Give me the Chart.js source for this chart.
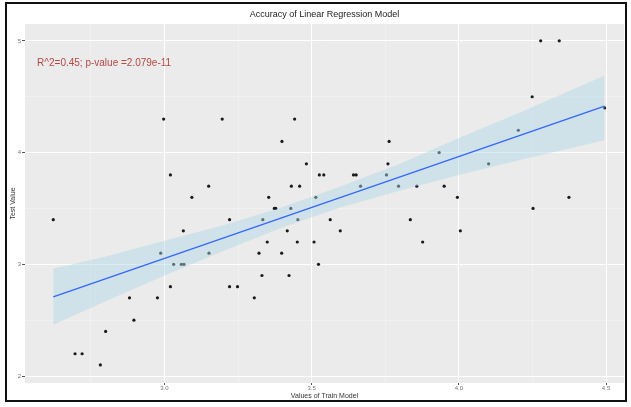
<!DOCTYPE html>
<html>
<head>
<meta charset="utf-8">
<script src="https://cdn.jsdelivr.net/npm/chart.js@4.4.0/dist/chart.umd.min.js"></script>
<style>
html, body { margin: 0; padding: 0; background: #fff; }
canvas { display: block; }
</style>
</head>
<body>
<canvas id="chart" width="631" height="407"></canvas>
<script>
// valores
const trainValues = [
    2.622, 2.696, 2.720, 2.782, 2.800, 2.881, 2.896, 2.976, 2.987, 2.997,
    3.020, 3.020, 3.031, 3.057, 3.066, 3.064, 3.093, 3.150, 3.151, 3.196,
    3.221, 3.221, 3.248, 3.305, 3.321, 3.331, 3.334, 3.349, 3.354, 3.373,
    3.378, 3.398, 3.399, 3.417, 3.423, 3.429, 3.431, 3.442, 3.451, 3.453,
    3.459, 3.482, 3.508, 3.514, 3.523, 3.526, 3.541, 3.563, 3.597, 3.642,
    3.651, 3.666, 3.754, 3.759, 3.763, 3.795, 3.835, 3.857, 3.877, 3.933,
    3.950, 3.995, 4.005, 4.101, 4.202, 4.249, 4.252, 4.278, 4.341, 4.374,
    4.495
];
const testValues = [
    3.4, 2.2, 2.2, 2.1, 2.4, 2.7, 2.5, 2.7, 3.1, 4.3,
    3.8, 2.8, 3.0, 3.0, 3.0, 3.3, 3.6, 3.7, 3.1, 4.3,
    3.4, 2.8, 2.8, 2.7, 3.1, 2.9, 3.4, 3.2, 3.6, 3.5,
    3.5, 3.1, 4.1, 3.3, 2.9, 3.5, 3.7, 4.3, 3.2, 3.4,
    3.7, 3.9, 3.2, 3.6, 3.0, 3.8, 3.8, 3.4, 3.3, 3.8,
    3.8, 3.7, 3.8, 3.9, 4.1, 3.7, 3.4, 3.7, 3.2, 4.0,
    3.7, 3.6, 3.3, 3.9, 4.2, 4.5, 3.5, 5.0, 5.0, 3.6,
    4.4
];

// recta ajustada y banda de confianza
const fitX = [2.622, 4.495];
const fitY = [2.709, 4.415];
const bandX = [2.622, 2.8, 3.0, 3.2, 3.4, 3.6, 3.8, 4.0, 4.2, 4.495];
const bandUpper = [2.96, 3.07, 3.21, 3.35, 3.51, 3.70, 3.90, 4.13, 4.35, 4.69];
const bandLower = [2.46, 2.67, 2.90, 3.12, 3.33, 3.51, 3.66, 3.80, 3.93, 4.11];

const xMajor = [3.0, 3.5, 4.0, 4.5];
const xTickLabels = ['3.0', '3.5', '4.0', '4.5'];
const yMajor = [2, 3, 4, 5];
const yTickLabels = ['2', '3', '4', '5'];

const annotationText = 'R^2=0.45; p-value =2.079e-11';
const annotationAt = [2.567, 4.8];

const FONT = '"Liberation Sans", Arial, Helvetica, sans-serif';

function majorIndex(list, value) {
    return list.findIndex(v => Math.abs(v - value) < 1e-6);
}

const pairs = (xs, ys) => xs.map((x, i) => ({ x: x, y: ys[i] }));

const panelPlugin = {
    id: 'panel',
    beforeDraw(chart) {
        const { ctx, chartArea: a, width, height } = chart;
        ctx.save();
        ctx.fillStyle = '#ffffff';
        ctx.fillRect(0, 0, width, height);
        ctx.fillStyle = '#ebebeb';
        ctx.fillRect(a.left, a.top, a.right - a.left, a.bottom - a.top);
        ctx.restore();
    },
    afterDraw(chart) {
        const { ctx } = chart;
        const x = chart.scales.x, y = chart.scales.y;
        ctx.save();
        ctx.font = '10px ' + FONT;
        ctx.fillStyle = '#b8473f';
        ctx.textBaseline = 'middle';
        ctx.fillText(annotationText, x.getPixelForValue(annotationAt[0]), y.getPixelForValue(annotationAt[1]));
        // marco negro alrededor
        ctx.lineWidth = 2;
        ctx.strokeStyle = '#111111';
        ctx.strokeRect(6, 3, 620, 398);
        ctx.restore();
    }
};

const gridColor = (list) => (c) => majorIndex(list, c.tick.value) >= 0 ? '#ffffff' : 'rgba(255,255,255,0.55)';
const gridWidth = (list) => (c) => majorIndex(list, c.tick.value) >= 0 ? 1 : 0.6;
const tickColor = (list) => (c) => majorIndex(list, c.tick.value) >= 0 ? '#555555' : 'rgba(0,0,0,0)';

new Chart(document.getElementById('chart').getContext('2d'), {
    type: 'scatter',
    data: {
        datasets: [
            {
                label: 'Points',
                data: pairs(trainValues, testValues),
                backgroundColor: '#1a1a1a',
                borderColor: '#1a1a1a',
                pointRadius: 1.6,
                borderWidth: 0,
                order: 3
            },
            {
                type: 'line',
                label: 'Upper',
                data: pairs(bandX, bandUpper),
                borderWidth: 0,
                borderColor: 'rgba(0,0,0,0)',
                backgroundColor: 'rgba(173, 216, 230, 0.45)',
                pointRadius: 0,
                tension: 0,
                fill: '+1',
                order: 2
            },
            {
                type: 'line',
                label: 'Lower',
                data: pairs(bandX, bandLower),
                borderWidth: 0,
                borderColor: 'rgba(0,0,0,0)',
                pointRadius: 0,
                tension: 0,
                fill: false,
                order: 2
            },
            {
                type: 'line',
                label: 'Fit',
                data: pairs(fitX, fitY),
                borderColor: '#3366ff',
                borderWidth: 1.3,
                pointRadius: 0,
                fill: false,
                order: 1
            }
        ]
    },
    options: {
        responsive: false,
        animation: false,
        layout: { padding: { left: 7, right: 7, top: 4, bottom: 5 } },
        plugins: {
            legend: { display: false },
            tooltip: { enabled: false },
            title: {
                display: true,
                text: 'Accuracy of Linear Regression Model',
                fullSize: false,
                color: '#222222',
                font: { family: FONT, size: 9, weight: 'normal' },
                padding: { top: 5.6, bottom: 3.6 }
            }
        },
        scales: {
            x: {
                type: 'linear',
                min: 2.526,
                max: 4.561,
                afterFit: (s) => { s.height = 19; },
                border: { display: false },
                grid: {
                    color: gridColor(xMajor),
                    lineWidth: gridWidth(xMajor),
                    tickColor: tickColor(xMajor),
                    tickLength: 2
                },
                ticks: {
                    stepSize: 0.25,
                    includeBounds: false,
                    autoSkip: false,
                    maxRotation: 0,
                    padding: 0,
                    color: '#777777',
                    font: { family: FONT, size: 6 },
                    callback: (v) => {
                        const i = majorIndex(xMajor, v);
                        return i >= 0 ? xTickLabels[i] : '';
                    }
                },
                title: {
                    display: true,
                    text: 'Values of Train Model',
                    color: '#333333',
                    font: { family: FONT, size: 7 },
                    padding: { top: 0, bottom: 1.8 }
                }
            },
            y: {
                type: 'linear',
                min: 1.938,
                max: 5.151,
                afterFit: (s) => { s.width = 18; },
                border: { display: false },
                grid: {
                    color: gridColor(yMajor),
                    lineWidth: gridWidth(yMajor),
                    tickColor: tickColor(yMajor),
                    tickLength: 3
                },
                ticks: {
                    stepSize: 0.5,
                    includeBounds: false,
                    autoSkip: false,
                    padding: 1,
                    color: '#777777',
                    font: { family: FONT, size: 6 },
                    callback: (v) => {
                        const i = majorIndex(yMajor, v);
                        return i >= 0 ? yTickLabels[i] : '';
                    }
                },
                title: {
                    display: true,
                    text: 'Test Value',
                    color: '#333333',
                    font: { family: FONT, size: 7 },
                    padding: { top: 1.5, bottom: 0 }
                }
            }
        }
    },
    plugins: [panelPlugin]
});
</script>
</body>
</html>
